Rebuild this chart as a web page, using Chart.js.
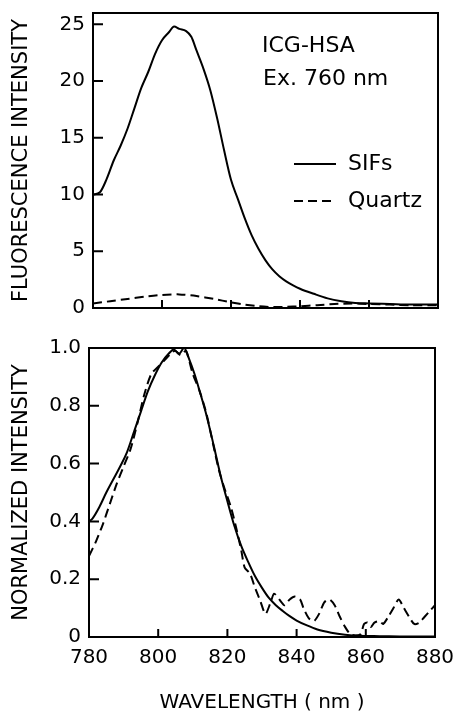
<!DOCTYPE html>
<html>
<head>
<meta charset="utf-8">
<script src="https://cdn.jsdelivr.net/npm/chart.js@4/dist/chart.umd.min.js"></script>
<style>
body{margin:0;background:#fff;}
#wrap{position:relative;width:456px;height:713px;}
canvas{position:absolute;left:0;}
#topChart{top:0;}
#bottomChart{top:320px;}
</style>
</head>
<body>
<div id="wrap">
<canvas id="topChart" width="456" height="320"></canvas>
<canvas id="bottomChart" width="456" height="393"></canvas>
</div>
<script>

// -------------------------------------
// DATA
// -------------------------------------

const xTicks = [780, 800, 820, 840, 860, 880];

// top panel: fluorescence intensity
const sifsNm = [780,782,784,786,788,790,792,794,796,798,800,802,803.5,805,807,808.5,810,812,814,816,818,820,822,824,826,828,830,832,834,836,838,840,844,848,852,856,860,866,872,880];
const sifsVal = [10.0,10.2,11.4,13.0,14.3,15.8,17.6,19.4,20.8,22.4,23.6,24.3,24.8,24.6,24.4,23.9,22.7,21.1,19.2,16.7,13.9,11.3,9.6,7.9,6.4,5.2,4.2,3.4,2.8,2.35,2.0,1.7,1.25,0.85,0.6,0.45,0.4,0.35,0.3,0.3];

const quartzNm = [780,785,790,795,800,805,810,815,820,824,828,832,836,840,845,850,855,860,866,872,880];
const quartzVal = [0.4,0.6,0.8,1.0,1.15,1.2,1.05,0.8,0.5,0.3,0.15,0.08,0.1,0.15,0.25,0.35,0.4,0.35,0.3,0.25,0.25];

// bottom panel: normalized intensity
const normSifsNm = [780,781,783,785,787,789,791,793,795,797,799,801,803,804.5,806,807.5,809,810.5,812,814,816,818,820,822,824,826,828,830,832,834,836,838,840,843,846,850,854,858,864,872,880];
const normSifsVal = [0.40,0.41,0.45,0.50,0.545,0.59,0.64,0.71,0.78,0.85,0.905,0.95,0.98,0.995,0.98,1.0,0.96,0.91,0.85,0.765,0.665,0.56,0.47,0.385,0.315,0.26,0.21,0.17,0.135,0.11,0.09,0.072,0.057,0.04,0.026,0.015,0.008,0.004,0.003,0.002,0.002];

const normQuartzNm = [780,782,784,786,788,790,792,794,796,798,800,802,804,805,806.5,808,810,812,814,816,817.5,819,821,822.5,824,825,826.5,828,829.5,831,832.5,833.5,835,836.5,838,839.5,841,842,843.5,845,846.5,848,849.5,851,852.5,854,855.5,857,858.5,859.5,860.5,861.5,862.5,864,865,866.5,868,869.5,871,872.5,874,875.5,877,878.5,880];
const normQuartzVal = [0.28,0.33,0.39,0.46,0.53,0.59,0.65,0.74,0.84,0.91,0.935,0.96,0.985,0.99,0.975,0.99,0.91,0.85,0.77,0.66,0.58,0.52,0.45,0.38,0.30,0.24,0.22,0.17,0.125,0.08,0.12,0.15,0.13,0.11,0.13,0.14,0.13,0.10,0.065,0.055,0.08,0.12,0.13,0.11,0.07,0.035,0.01,0.005,0.01,0.045,0.05,0.035,0.05,0.055,0.045,0.07,0.10,0.13,0.10,0.07,0.045,0.05,0.07,0.09,0.11];


// -------------------------------------
// HELPERS
// -------------------------------------

const FONT = '"DejaVu Sans", sans-serif';
const DASH = [9, 5];

function points(nm, val){
return nm.map((x, i) => ({x: x, y: val[i]}));
}

function line(label, nm, val, dashed){
return {
label: label,
data: points(nm, val),
borderColor: "#000",
borderWidth: 2,
borderDash: dashed ? DASH : [],
pointRadius: 0,
cubicInterpolationMode: dashed ? "default" : "monotone",
tension: dashed ? 0.25 : 0,
fill: false
};
}

// box round the plot and inward tick marks
const framePlugin = {
id: "frame",
afterDraw(chart){
const {ctx, chartArea: a, scales: {x, y}} = chart;
ctx.save();
ctx.strokeStyle = "#000";
ctx.lineWidth = 2;
ctx.strokeRect(a.left, a.top, a.right - a.left, a.bottom - a.top);
ctx.beginPath();
x.ticks.forEach(t => {
const px = x.getPixelForValue(t.value);
ctx.moveTo(px, a.bottom);
ctx.lineTo(px, a.bottom - 8);
});
y.ticks.forEach(t => {
const py = y.getPixelForValue(t.value);
ctx.moveTo(a.left, py);
ctx.lineTo(a.left + 10, py);
});
ctx.stroke();
ctx.restore();
}
};

// sample label and legend in the top panel
const notePlugin = {
id: "note",
afterDraw(chart){
const ctx = chart.ctx;
const sets = chart.data.datasets;
ctx.save();
ctx.fillStyle = "#000";
ctx.strokeStyle = "#000";
ctx.font = "22px " + FONT;
ctx.textBaseline = "alphabetic";
ctx.fillText("ICG-HSA", 262, 52);
ctx.fillText("Ex. 760 nm", 263, 85);

ctx.textBaseline = "middle";
ctx.lineWidth = 2;
[[sets[0], 164], [sets[1], 201]].forEach(([ds, yy]) => {
ctx.setLineDash(ds.borderDash);
ctx.beginPath();
ctx.moveTo(294, yy);
ctx.lineTo(336, yy);
ctx.stroke();
ctx.setLineDash([]);
ctx.fillText(ds.label, 348, yy);
});
ctx.restore();
}
};

function xScale(showLabels, height){
return {
type: "linear",
min: 780,
max: 880,
afterBuildTicks: s => { s.ticks = xTicks.map(v => ({value: v})); },
ticks: {display: showLabels, padding: 9, color: "#000", font: {family: FONT, size: 20}},
grid: {display: false, drawTicks: false},
border: {display: false},
title: {
display: showLabels,
text: "WAVELENGTH ( nm )",
color: "#000",
font: {family: FONT, size: 20, lineHeight: 1},
padding: {top: 0, bottom: 0}
},
afterFit: s => {
s.height = height;
s.paddingLeft = 0;
s.paddingRight = 0;
}
};
}

function yScale(max, step, title, width, fmt){
return {
min: 0,
max: max,
ticks: {
stepSize: step,
includeBounds: false,
padding: 8,
color: "#000",
font: {family: FONT, size: 20},
callback: fmt
},
grid: {display: false, drawTicks: false},
border: {display: false},
title: {
display: true,
text: title,
color: "#000",
font: {family: FONT, size: 21},
padding: {top: 9, bottom: 0}
},
afterFit: s => {
s.width = width;
s.paddingTop = 0;
s.paddingBottom = 0;
}
};
}


// -------------------------------------
// TOP PANEL
// -------------------------------------

new Chart(document.getElementById("topChart"), {

type: "line",

data: {
datasets: [
line("SIFs", sifsNm, sifsVal, false),
line("Quartz", quartzNm, quartzVal, true)
]
},

options: {
responsive: false,
animation: false,
layout: {padding: {top: 13, right: 18, left: 0, bottom: 0}},
plugins: {legend: {display: false}, tooltip: {enabled: false}},
scales: {
x: xScale(false, 12),
y: yScale(26, 5, "FLUORESCENCE INTENSITY", 93, v => String(v))
}
},

plugins: [framePlugin, notePlugin]

});


// -------------------------------------
// BOTTOM PANEL
// -------------------------------------

new Chart(document.getElementById("bottomChart"), {

type: "line",

data: {
datasets: [
line("SIFs", normSifsNm, normSifsVal, false),
line("Quartz", normQuartzNm, normQuartzVal, true)
]
},

options: {
responsive: false,
animation: false,
layout: {padding: {top: 28, right: 21, left: 0, bottom: 0}},
plugins: {legend: {display: false}, tooltip: {enabled: false}},
scales: {
x: xScale(true, 76),
y: yScale(1, 0.2, "NORMALIZED INTENSITY", 89, v => v === 0 ? "0" : v.toFixed(1))
}
},

plugins: [framePlugin]

});

</script>
</body>
</html>
